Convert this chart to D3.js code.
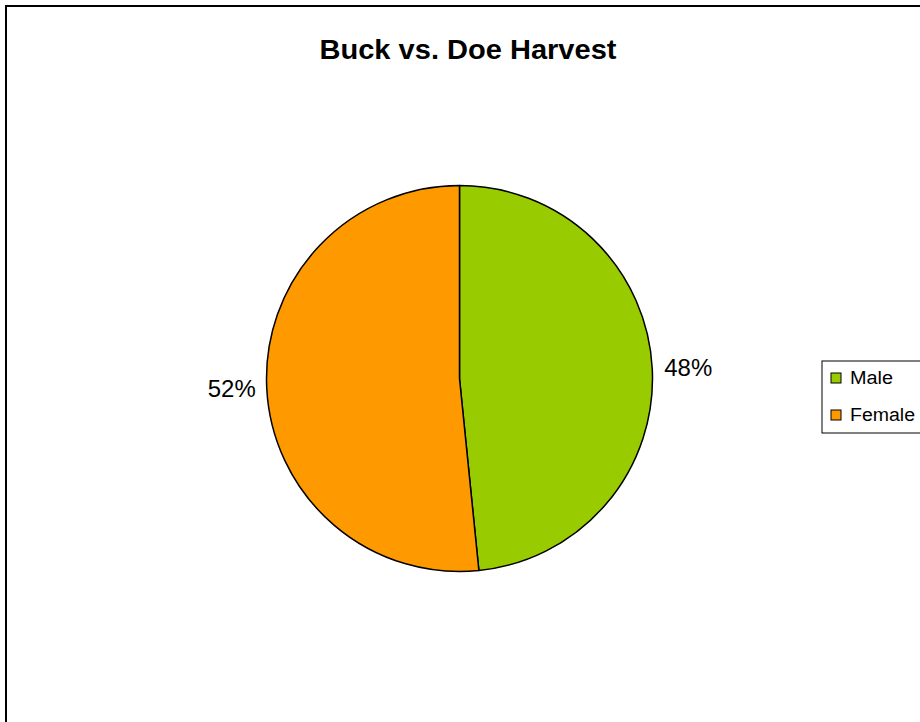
<!DOCTYPE html>
<html>
<head>
<meta charset="utf-8">
<script src="https://cdn.jsdelivr.net/npm/d3@7"></script>
<style>
  body { margin: 0; background: #fff; }
  text { font-family: Arial, "Liberation Sans", sans-serif; }
</style>
</head>
<body>
<div id="chart"></div>
<script>
var svgWidth = 920;
var svgHeight = 722;

// Data
var categories = ["Male", "Female"];
var shares = [48.4, 51.6];
var colors = ["#99CC00", "#FF9900"];
var chartTitle = "Buck vs. Doe Harvest";

var center = { x: 459.5, y: 378.5 };
var radius = 193;

var svg = d3.select("#chart")
    .append("svg")
    .attr("width", svgWidth)
    .attr("height", svgHeight);

// outer frame
svg.append("rect")
    .attr("x", 6)
    .attr("y", 6)
    .attr("width", 940)
    .attr("height", 740)
    .attr("fill", "none")
    .attr("stroke", "#000")
    .attr("stroke-width", 2);

// title
svg.append("text")
    .attr("x", 468)
    .attr("y", 59)
    .attr("text-anchor", "middle")
    .attr("font-size", "27px")
    .attr("font-weight", "bold")
    .attr("textLength", 297)
    .attr("lengthAdjust", "spacingAndGlyphs")
    .text(chartTitle);

var pieData = categories.map(function (c, i) {
    return { name: c, value: shares[i], color: colors[i] };
});

var pie = d3.pie()
    .sort(null)
    .value(d => d.value);

var arc = d3.arc()
    .innerRadius(0)
    .outerRadius(radius);

var total = d3.sum(shares);
var fmt = d3.format(".0%");

var pieGroup = svg.append("g")
    .attr("transform", `translate(${center.x}, ${center.y})`);

var slices = pie(pieData);

pieGroup.selectAll("path")
    .data(slices)
    .enter()
    .append("path")
    .attr("d", arc)
    .attr("fill", d => d.data.color)
    .attr("stroke", "#000")
    .attr("stroke-width", 1.5)
    .attr("stroke-linejoin", "round");

// percent labels just outside the edge
pieGroup.selectAll(".pct")
    .data(slices)
    .enter()
    .append("text")
    .classed("pct", true)
    .each(function (d) {
        var a = (d.startAngle + d.endAngle) / 2;
        var right = Math.sin(a) >= 0;
        var r = radius + 11;
        d3.select(this)
            .attr("x", Math.sin(a) * r + (right ? 1 : 0))
            .attr("y", -Math.cos(a) * r)
            .attr("dy", "0.35em")
            .attr("text-anchor", right ? "start" : "end");
    })
    .attr("font-size", "23px")
    .attr("textLength", 48)
    .attr("lengthAdjust", "spacingAndGlyphs")
    .attr("fill", "#000")
    .text(d => fmt(d.data.value / total));

// legend
var legend = svg.append("g")
    .attr("transform", "translate(822, 361)");

legend.append("rect")
    .attr("x", 0)
    .attr("y", 0)
    .attr("width", 120)
    .attr("height", 72)
    .attr("fill", "#fff")
    .attr("stroke", "#000")
    .attr("stroke-width", 1);

var item = legend.selectAll(".item")
    .data(pieData)
    .enter()
    .append("g")
    .classed("item", true)
    .attr("transform", (d, i) => `translate(9, ${17 + i * 37})`);

item.append("rect")
    .attr("x", 0)
    .attr("y", -5)
    .attr("width", 10)
    .attr("height", 10)
    .attr("fill", d => d.color)
    .attr("stroke", "#000")
    .attr("stroke-width", 1);

item.append("text")
    .attr("x", 19)
    .attr("y", 0)
    .attr("dy", "0.35em")
    .attr("font-size", "18px")
    .attr("textLength", d => d.name === "Male" ? 43 : 65)
    .attr("lengthAdjust", "spacingAndGlyphs")
    .text(d => d.name);
</script>
</body>
</html>
